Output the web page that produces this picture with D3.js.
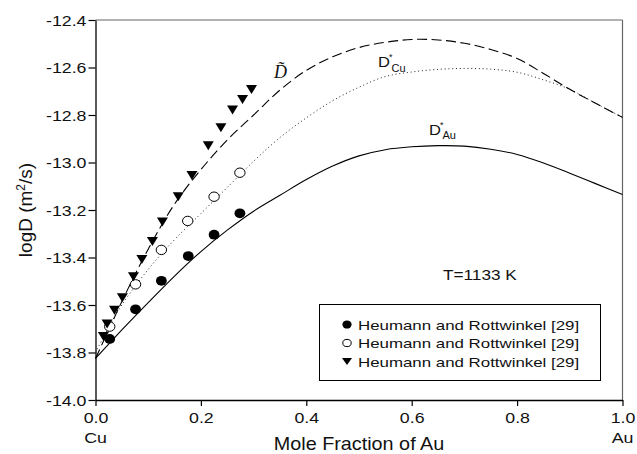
<!DOCTYPE html>
<html>
<head>
<meta charset="utf-8">
<script src="https://cdn.jsdelivr.net/npm/d3@7"></script>
<style>
  body { margin: 0; background: #fff; }
  svg { display: block; }
  text { font-family: "Liberation Sans", Arial, sans-serif; fill: #111; }
</style>
</head>
<body>
<svg id="chart" width="637" height="454"></svg>
<script>
// Interdiffusion and tracer diffusion in Cu-Au, T=1133 K

// curves, sampled off the figure
var curveX = [0, 0.025, 0.05, 0.1, 0.15, 0.2, 0.25, 0.3, 0.35, 0.4, 0.45, 0.5,
              0.55, 0.6, 0.65, 0.7, 0.75, 0.8, 0.85, 0.9, 0.95, 1.0];
var dTilde = [-13.825, -13.705, -13.585, -13.365, -13.175, -13.03, -12.905, -12.80,
              -12.695, -12.612, -12.555, -12.516, -12.494, -12.482, -12.484, -12.498,
              -12.524, -12.562, -12.625, -12.692, -12.752, -12.81];
var dCu = [-13.80, -13.695, -13.60, -13.45, -13.325, -13.215, -13.105, -12.995,
           -12.895, -12.812, -12.74, -12.683, -12.638, -12.619, -12.608, -12.604,
           -12.607, -12.62, -12.652, -12.692, -12.752, -12.81];
var dAu = [-13.825, -13.765, -13.705, -13.59, -13.478, -13.375, -13.285, -13.205,
           -13.138, -13.072, -13.015, -12.972, -12.946, -12.934, -12.929, -12.931,
           -12.944, -12.966, -13.002, -13.045, -13.09, -13.135];

// measured points (Heumann and Rottwinkel [29])
var auX = [0.027, 0.076, 0.125, 0.176, 0.225, 0.274];
var auY = [-13.743, -13.618, -13.498, -13.394, -13.304, -13.214];
var cuX = [0.027, 0.076, 0.125, 0.175, 0.225, 0.274];
var cuY = [-13.691, -13.513, -13.368, -13.246, -13.144, -13.043];
var triX = [0.015, 0.022, 0.036, 0.051, 0.072, 0.088, 0.108, 0.127, 0.157, 0.183,
            0.214, 0.238, 0.260, 0.279, 0.296];
var triY = [-13.733, -13.68, -13.622, -13.569, -13.481, -13.408, -13.333, -13.251,
            -13.144, -13.055, -12.929, -12.854, -12.779, -12.735, -12.693];

var xTicks = [0, 0.2, 0.4, 0.6, 0.8, 1.0];
var yTicks = [-14.0, -13.8, -13.6, -13.4, -13.2, -13.0, -12.8, -12.6, -12.4];
var legendLabels = ["Heumann and Rottwinkel [29]",
                    "Heumann and Rottwinkel [29]",
                    "Heumann and Rottwinkel [29]"];

var svg = d3.select("#chart");
var x = d3.scaleLinear().domain([0, 1]).range([95.5, 622.5]);
var y = d3.scaleLinear().domain([-14, -12.4]).range([400, 20]);

// the figure's type is stretched sideways, so text gets a scaleX
var label = function (px, py, str, size, anchor, sx) {
  return svg.append("text")
    .attr("transform", "translate(" + px + "," + py + ") scale(" + (sx || 1) + ",1)")
    .attr("text-anchor", anchor || "start")
    .style("font-size", size + "px")
    .text(str);
};
var fmt = function (d) { return d.toFixed(1); };  // plain hyphen, not U+2212

///////////////////////////////////////////////////////////////////////////////
// Frame and axes

svg.append("line").attr("x1", x(0)).attr("x2", x(1)).attr("y1", y(-12.4)).attr("y2", y(-12.4))
  .attr("stroke", "#666").attr("stroke-width", 1.2);
svg.append("line").attr("x1", x(1)).attr("x2", x(1)).attr("y1", y(-12.4)).attr("y2", y(-14))
  .attr("stroke", "#666").attr("stroke-width", 1.2);

var xAxis = svg.append("g").attr("transform", "translate(0," + y(-14) + ")")
  .call(d3.axisBottom(x).tickValues(xTicks).tickSize(6).tickSizeOuter(0).tickFormat(fmt));
var yAxis = svg.append("g").attr("transform", "translate(" + x(0) + ",0)")
  .call(d3.axisLeft(y).tickValues(yTicks).tickSize(7).tickSizeOuter(0).tickFormat(fmt));

[xAxis, yAxis].forEach(function (g) {
  g.select(".domain").attr("stroke", "#000").attr("stroke-width", 1.3);
  g.selectAll(".tick line").attr("stroke", "#000").attr("stroke-width", 1.2);
  g.selectAll("text").attr("font-family", null).style("font-size", "14px").attr("fill", null);
});
xAxis.selectAll("text").attr("y", 0).attr("dy", null)
  .attr("transform", "translate(0,23) scale(1.27,1)");
yAxis.selectAll("text").attr("x", 0).attr("dy", null)
  .attr("transform", "translate(-9,5) scale(1.27,1)");

label(x(0), 443, "Cu", 14, "middle", 1.27);
label(x(1), 443, "Au", 14, "middle", 1.27);
label((x(0) + x(1)) / 2, 450, "Mole Fraction of Au", 18, "middle", 1.1);

var yTitle = svg.append("text")
  .attr("transform", "translate(32," + (y(-13.2)) + ") rotate(-90)")
  .attr("text-anchor", "middle")
  .style("font-size", "19px");
yTitle.append("tspan").text("logD (m");
yTitle.append("tspan").attr("dy", -7).style("font-size", "12px").text("2");
yTitle.append("tspan").attr("dy", 7).text("/s)");

///////////////////////////////////////////////////////////////////////////////
// Curves

var line = d3.line()
  .x(function (d) { return x(d[0]); })
  .y(function (d) { return y(d[1]); })
  .curve(d3.curveCatmullRom.alpha(0.5));

var drawCurve = function (vals, dash, width, colour) {
  svg.append("path")
    .datum(curveX.map(function (cx, i) { return [cx, vals[i]]; }))
    .attr("d", line)
    .attr("fill", "none")
    .attr("stroke", colour)
    .attr("stroke-width", width)
    .attr("stroke-dasharray", dash);
};
drawCurve(dAu, null, 1.1, "#000");
drawCurve(dCu, "1,2.8", 1, "#222");
drawCurve(dTilde, "10,4.5", 1.1, "#000");

///////////////////////////////////////////////////////////////////////////////
// Points

var pts = function (xs, ys) { return xs.map(function (v, i) { return [v, ys[i]]; }); };

svg.append("g").selectAll("ellipse").data(pts(auX, auY)).enter().append("ellipse")
  .attr("cx", function (d) { return x(d[0]); })
  .attr("cy", function (d) { return y(d[1]); })
  .attr("rx", 5.4).attr("ry", 4.9)
  .attr("fill", "#000");

svg.append("g").selectAll("ellipse").data(pts(cuX, cuY)).enter().append("ellipse")
  .attr("cx", function (d) { return x(d[0]); })
  .attr("cy", function (d) { return y(d[1]); })
  .attr("rx", 5.2).attr("ry", 4.7)
  .attr("fill", "#fff").attr("stroke", "#000").attr("stroke-width", 1);

var tri = function (w, h) {
  return "M" + (-w / 2) + "," + (-h / 2) + "L" + (w / 2) + "," + (-h / 2) + "L0," + (h / 2) + "Z";
};
svg.append("g").selectAll("path").data(pts(triX, triY)).enter().append("path")
  .attr("transform", function (d) { return "translate(" + x(d[0]) + "," + y(d[1]) + ")"; })
  .attr("d", tri(11, 9))
  .attr("fill", "#000");

///////////////////////////////////////////////////////////////////////////////
// Curve labels, temperature, legend

var dt = label(274, 78, "D\u0303", 18, "start", 1);
dt.style("font-family", "'Liberation Serif', 'DejaVu Serif', serif").style("font-style", "italic");

label(378, 67, "D", 15, "start", 1.1);
label(389, 60, "*", 9, "start", 1);
label(391.5, 72, "Cu", 10, "start", 1.1);

label(429, 135, "D", 15, "start", 1.1);
label(440, 128, "*", 9, "start", 1);
label(442.5, 139, "Au", 10, "start", 1.1);

label(443, 280, "T=1133 K", 14, "start", 1.23);

svg.append("rect").attr("x", 319.5).attr("y", 304.5).attr("width", 281).attr("height", 76)
  .attr("fill", "#fff").attr("stroke", "#000").attr("stroke-width", 1);

var legendY = [324.5, 343, 361.5];
svg.append("ellipse").attr("cx", 347).attr("cy", legendY[0]).attr("rx", 4.6).attr("ry", 4.1)
  .attr("fill", "#000");
svg.append("ellipse").attr("cx", 347).attr("cy", legendY[1]).attr("rx", 4.2).attr("ry", 3.6)
  .attr("fill", "#fff").attr("stroke", "#000").attr("stroke-width", 1);
svg.append("path").attr("transform", "translate(347," + legendY[2] + ")")
  .attr("d", tri(10, 7)).attr("fill", "#000");

legendLabels.forEach(function (t, i) {
  label(358, legendY[i] + 5, t, 13.5, "start", 1.25);
});
</script>
</body>
</html>
